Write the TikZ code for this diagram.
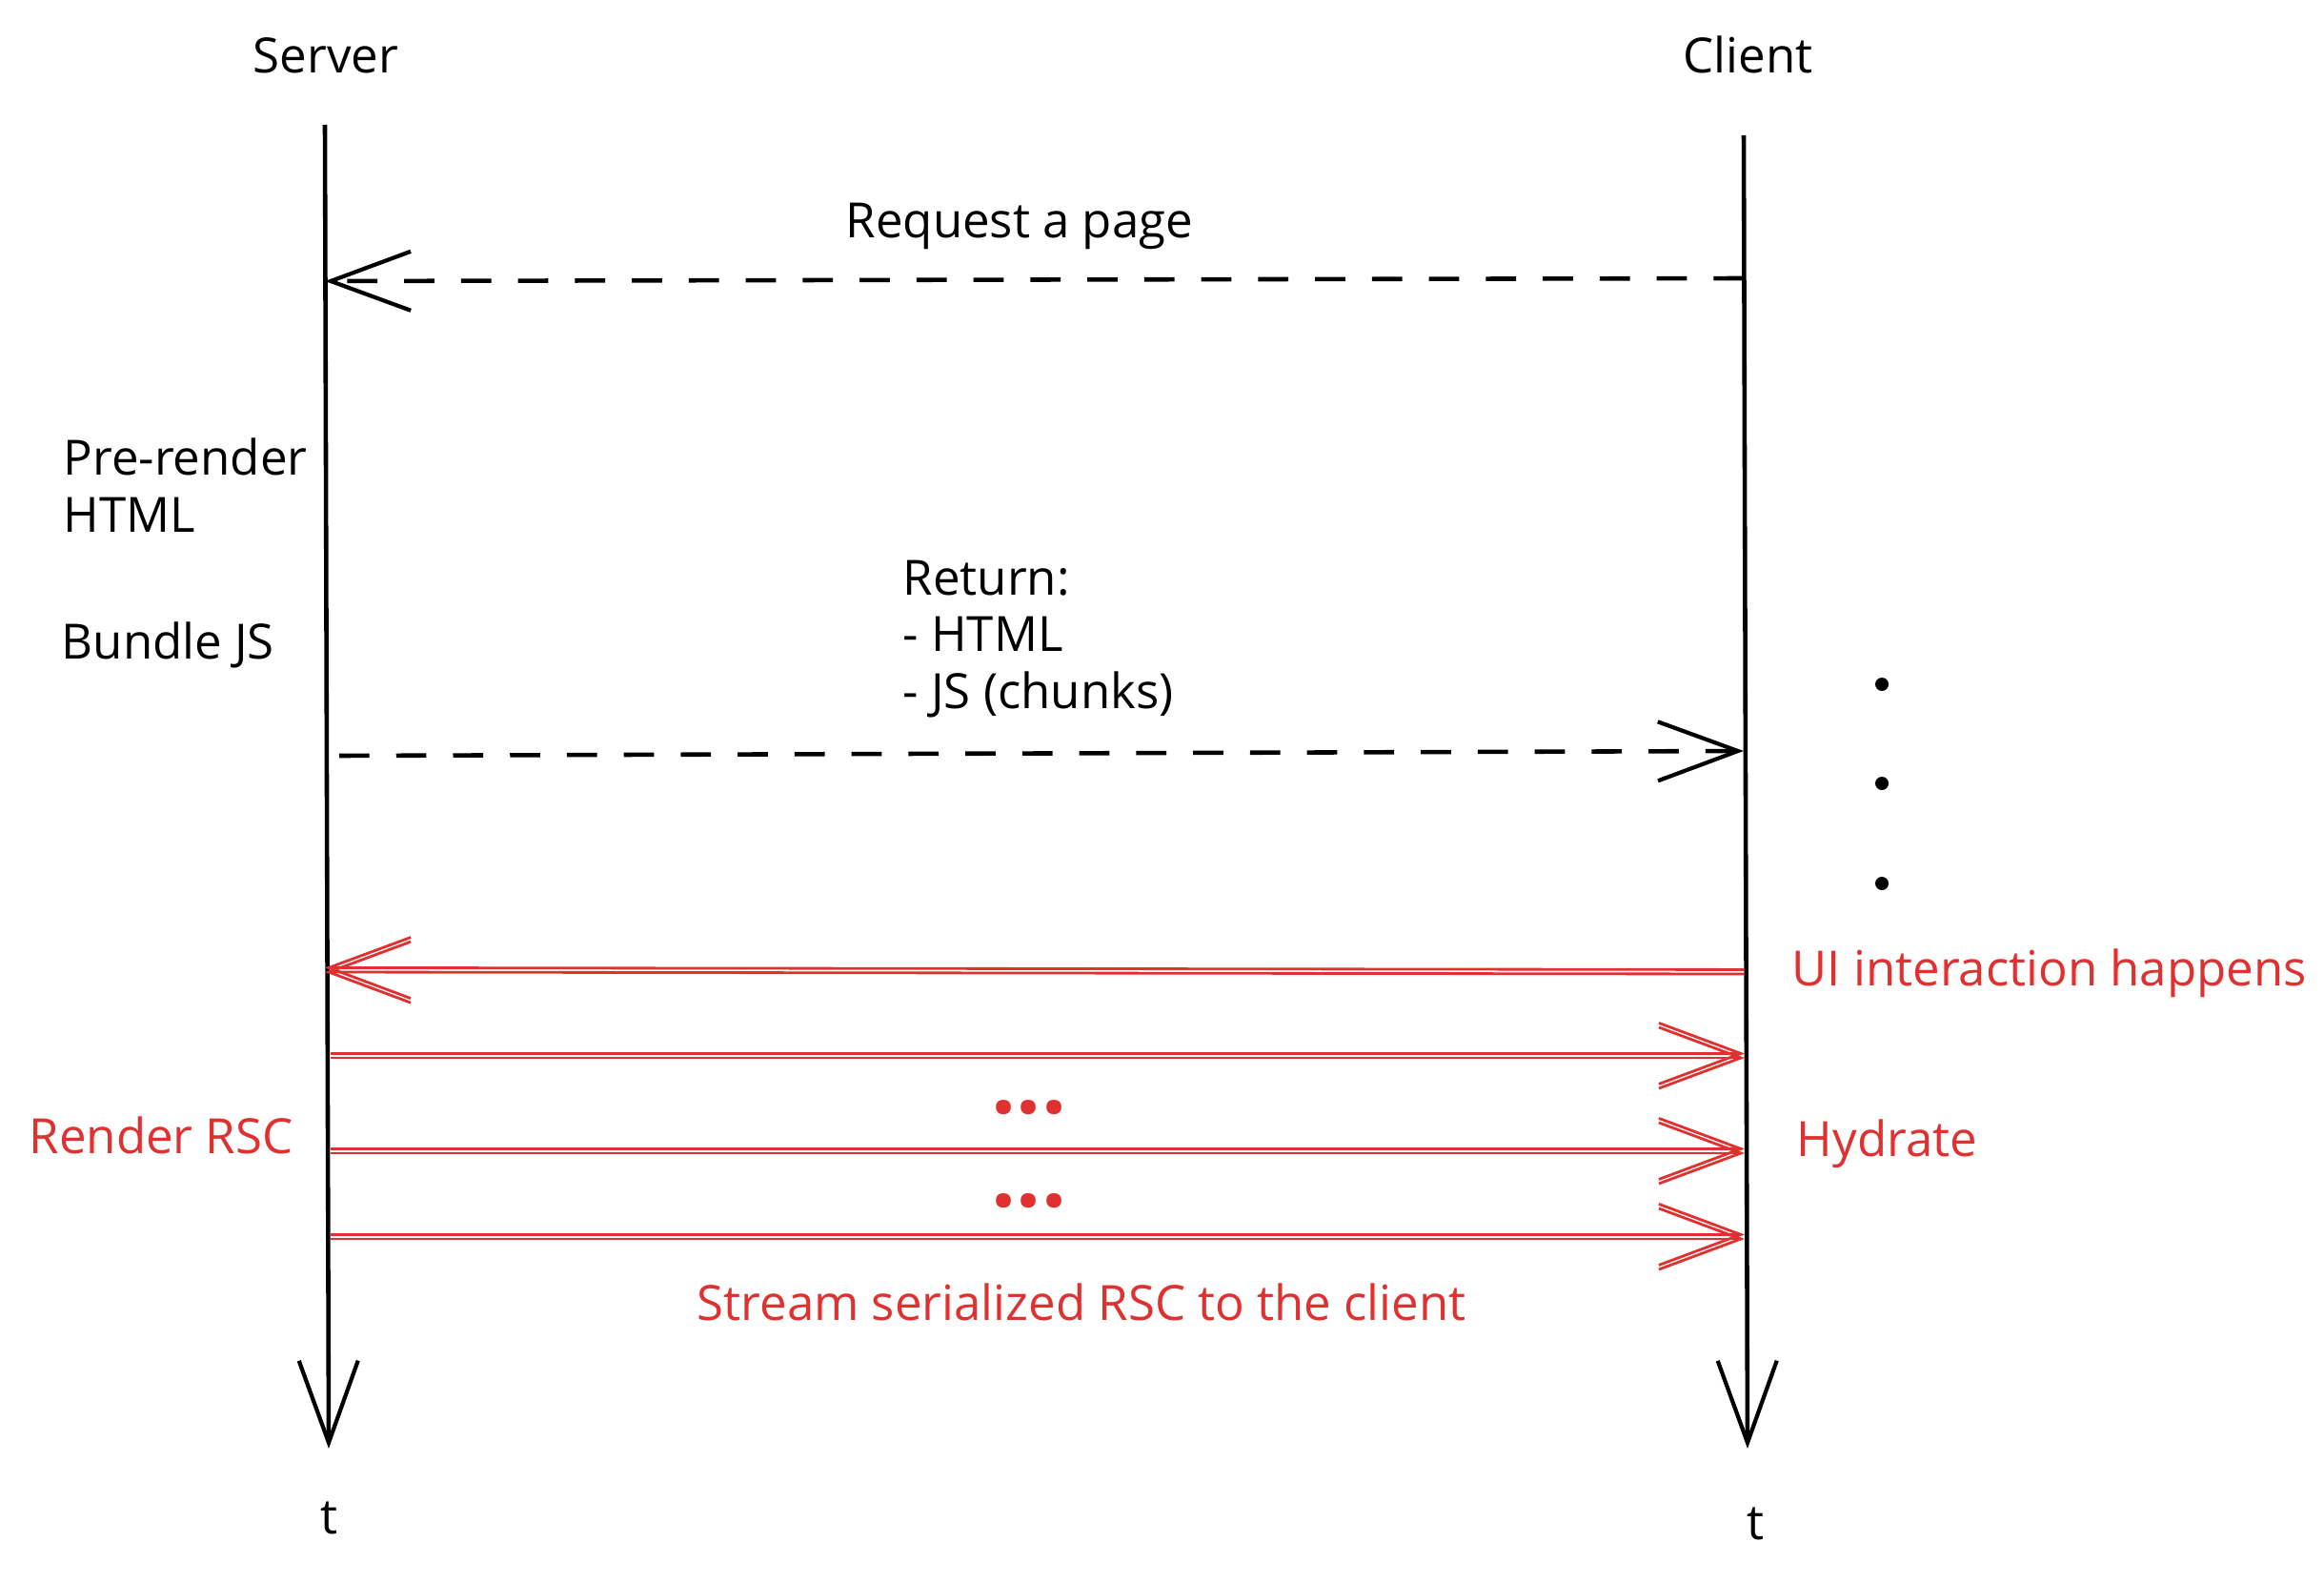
\documentclass[tikz,border=0pt]{standalone}
\usepackage{fontspec}
\setmainfont{Open Sans}
\usepackage{xcolor}
\usetikzlibrary{calc,positioning,arrows.meta}

\definecolor{rsred}{RGB}{224,49,49}

\tikzset{
	label/.style={inner sep=0pt, font=\fontsize{14.5}{17}\selectfont, align=left},
	redlabel/.style={label, text=rsred},
	lifeline/.style={line width=1.3pt, -{Straight Barb[length=0.86cm,width=0.62cm,line width=1.2pt]}},
	msg/.style={line width=1.3pt, dash pattern=on 9pt off 8pt, -{Straight Barb[length=0.84cm,width=0.62cm,line width=1.2pt]}},
	redmsg/.style={draw=rsred, line width=0.8pt, -{Straight Barb[length=0.86cm,width=0.64cm,line width=0.8pt]},
		postaction={draw=rsred, transform canvas={yshift=1.3pt}}},
}

\begin{document}
\begin{tikzpicture}
		\useasboundingbox (0,0) rectangle (24.39,-16.60);

		% the two lifelines
		\coordinate (stop) at (3.41,-1.31);
		\coordinate (sbot) at (3.45,-15.20);
		\coordinate (ctop) at (18.30,-1.42);
		\coordinate (cbot) at (18.34,-15.20);
		\draw[lifeline] (stop) -- (sbot);
		\draw[lifeline] (ctop) -- (cbot);
		\node[label, anchor=base west] (server) at (2.65,-0.77) {Server};
		\node[label, anchor=base west] (client) at (17.66,-0.77) {Client};
		\node[label, anchor=base] (ts) at (3.45,-16.09) {t};
		\node[label, anchor=base] (tc) at (18.42,-16.15) {t};

		% request and response
		\coordinate (req-c) at (18.30,-2.92);
		\coordinate (req-s) at (3.41,-2.95);
		\draw[msg] (req-c) -- (req-s);
		\node[label, anchor=base west] (req) at (8.87,-2.50) {Request a page};

		\node[label, anchor=north west] (prerender) at (0.66,-4.59) {Pre-render\\HTML};
		\node[label, anchor=base west] (bundle) at (0.64,-6.91) {Bundle JS};

		\coordinate (ret-s) at (3.56,-7.93);
		\coordinate (ret-c) at (18.30,-7.88);
		\draw[msg] (ret-s) -- (ret-c);
		\node[label, anchor=north west] (ret) at (9.47,-5.87) {Return:\\- HTML\\- JS (chunks)};

		\foreach \y in {7.18,8.22,9.27} {
			\fill (19.75,-\y) circle (0.07);
		}

		% interaction and streamed RSC
		\coordinate (ui-c) at (18.30,-10.22);
		\coordinate (ui-s) at (3.41,-10.20);
		\draw[redmsg] (ui-c) -- (ui-s);
		\node[redlabel, anchor=base west] (ui) at (18.80,-10.34) {UI interaction happens};

		\foreach \y/\n in {11.10/1,12.10/2,13.00/3} {
			\draw[redmsg] (3.47,-\y) coordinate (rsc-s\n) -- (18.31,-\y) coordinate (rsc-c\n);
		}
		\foreach \y in {11.62,12.60} {
			\node[redlabel, font=\fontsize{26}{26}\selectfont\bfseries] at (10.80,-\y) {...};
		}
		\node[redlabel, anchor=base west] (render) at (0.30,-12.10) {Render RSC};
		\node[redlabel, anchor=base west] (hydrate) at (18.85,-12.13) {Hydrate};
		\node[redlabel, anchor=base west] (stream) at (7.31,-13.85) {Stream serialized RSC to the client};

	\end{tikzpicture}
\end{document}
